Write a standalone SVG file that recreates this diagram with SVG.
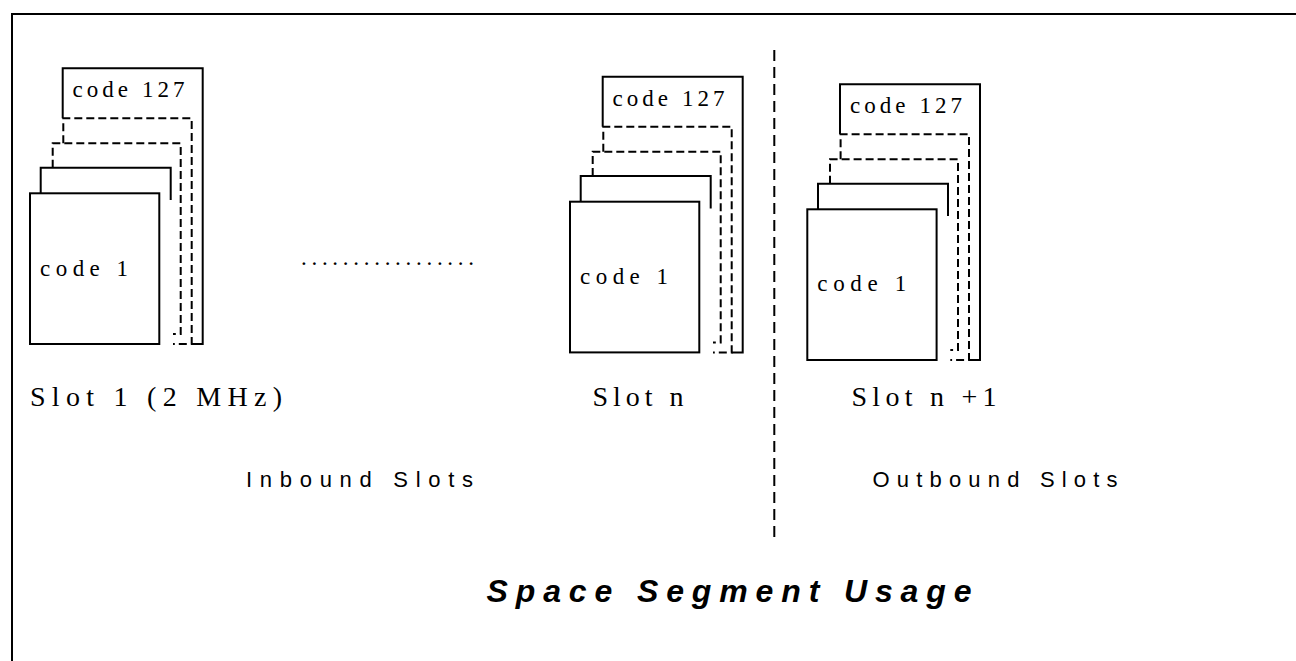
<svg xmlns="http://www.w3.org/2000/svg" width="1296" height="661" viewBox="0 0 1296 661">
<style>
.ln{fill:none;stroke:#000;stroke-width:2}
.ds{fill:none;stroke:#000;stroke-width:2;stroke-dasharray:8 4}
.fr{fill:#fff;stroke:#000;stroke-width:2}
.cd{font-family:"Liberation Serif","Times New Roman",serif;font-size:23px;fill:#000}
.sl{font-family:"Liberation Serif","Times New Roman",serif;font-size:28px;fill:#000}
.lb{font-family:"Liberation Sans",Arial,sans-serif;font-size:22px;fill:#000}
.tt{font-family:"Liberation Sans",Arial,sans-serif;font-size:32px;font-weight:bold;font-style:italic;fill:#000}
</style>
<defs>
<g id="stack">
<path class="ln" d="M32.7,-75 V-125 H172.7 V150.7 H161.7"/>
<path class="ds" d="M33.3,-50 V-75 H161.7 V150.7 H143"/>
<path class="ds" d="M22.7,-25.6 V-50 H150.7 V140.7 H143"/>
<path class="ln" d="M10.7,0 V-25.6 H140.7 V6.7"/>
<rect class="fr" x="0" y="0" width="129.3" height="150.7"/>
</g>
</defs>
<rect width="1296" height="661" fill="#fff"/>
<path d="M12,661 V14 H1296" fill="none" stroke="#000" stroke-width="2"/>

<g id="slot1">
<use href="#stack" transform="translate(30,193.3)"/>
<text class="cd" x="72.5" y="96.8" textLength="112" lengthAdjust="spacing">code 127</text>
<text class="cd" x="40" y="275.6" textLength="88" lengthAdjust="spacing">code 1</text>
<text class="sl" x="30" y="406" textLength="252" lengthAdjust="spacing">Slot 1 (2 MHz)</text>
</g>

<g id="dots">
<text class="cd" x="301" y="265" textLength="173" lengthAdjust="spacing">.................</text>
</g>

<g id="slotn">
<use href="#stack" transform="translate(570,201.7)"/>
<text class="cd" x="612.5" y="105.5" textLength="112" lengthAdjust="spacing">code 127</text>
<text class="cd" x="580" y="283.5" textLength="88" lengthAdjust="spacing">code 1</text>
<text class="sl" x="592.5" y="406" textLength="91" lengthAdjust="spacing">Slot n</text>
</g>

<g id="slotn1">
<use href="#stack" transform="translate(807.3,209.3)"/>
<text class="cd" x="850" y="113.3" textLength="112" lengthAdjust="spacing">code 127</text>
<text class="cd" x="817.3" y="291.4" textLength="89" lengthAdjust="spacing">code 1</text>
<text class="sl" x="851.5" y="406" textLength="145" lengthAdjust="spacing">Slot n +1</text>
</g>

<g id="connectors">
<line x1="774.3" y1="50" x2="774.3" y2="541" stroke="#000" stroke-width="2" stroke-dasharray="11 6"/>
</g>

<g id="labels">
<text class="lb" x="246" y="486.7" textLength="227" lengthAdjust="spacing">Inbound  Slots</text>
<text class="lb" x="872.5" y="486.7" textLength="245" lengthAdjust="spacing">Outbound Slots</text>
<text class="tt" x="486.5" y="601.5" textLength="485" lengthAdjust="spacing">Space Segment Usage</text>
</g>
</svg>
